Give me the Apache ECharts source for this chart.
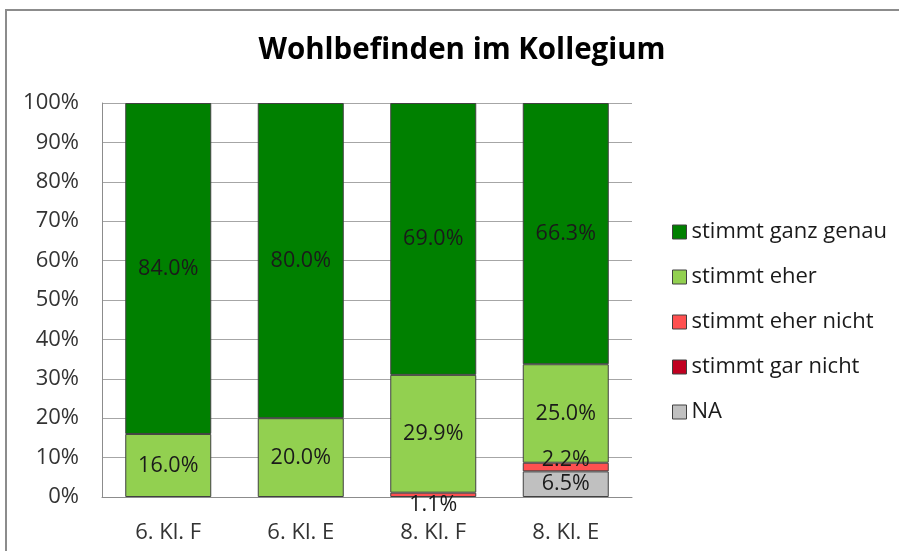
<!DOCTYPE html>
<html><head><meta charset="utf-8">
<script src="https://cdn.jsdelivr.net/npm/echarts@6/dist/echarts.min.js"></script>
<style>html,body{margin:0;padding:0;background:#fff}#c{width:899px;height:551px}</style>
</head><body><div id="c"></div>
<script>
const categories = ['6. Kl. F', '6. Kl. E', '8. Kl. F', '8. Kl. E'];
const seriesNames = ['stimmt ganz genau', 'stimmt eher', 'stimmt eher nicht', 'stimmt gar nicht', 'NA'];
const ganzGenau = [84.0, 80.0, 69.0, 66.3];
const eher = [16.0, 20.0, 29.9, 25.0];
const eherNicht = [null, null, 1.1, 2.2];
const garNicht = [null, null, null, null];
const na = [null, null, null, 6.5];
const yTicks = [0, 10, 20, 30, 40, 50, 60, 70, 80, 90, 100];

const colors = {
  'stimmt ganz genau': '#008000',
  'stimmt eher': '#92D050',
  'stimmt eher nicht': '#FF5050',
  'stimmt gar nicht': '#C00020',
  'NA': '#C0C0C0'
};
// label nudges (the original moved these to avoid overlap)
const labelOffsets = { 'stimmt eher nicht': [[0,0],[0,0],[0,10],[0,-7]] };

const stackOrder = [
  ['NA', na], ['stimmt gar nicht', garNicht], ['stimmt eher nicht', eherNicht],
  ['stimmt eher', eher], ['stimmt ganz genau', ganzGenau]
];
const FONT = 'Open Sans';
const series = stackOrder.map(([name, arr]) => ({
  name, type: 'bar', stack: 'total', barWidth: 86,
  itemStyle: { color: colors[name], borderColor: '#404040', borderWidth: 1 },
  label: {
    show: true, position: 'inside', color: '#1a1a1a', fontFamily: FONT, fontSize: 21.5,
    formatter: p => (p.value == null ? '' : p.value.toFixed(1) + '%')
  },
  data: arr.map((v, i) => {
    const off = labelOffsets[name] ? labelOffsets[name][i] : null;
    return off ? { value: v, label: { offset: off } } : v;
  })
}));

const chart = echarts.init(document.getElementById('c'), null, { renderer: 'canvas' });
chart.setOption({
  animation: false,
  backgroundColor: '#fff',
  graphic: [{ type: 'rect', shape: { x: 6, y: 10, width: 1000, height: 1000 },
    style: { fill: 'none', stroke: '#8c8c8c', lineWidth: 2 }, silent: true, z: -1 }],
  title: { text: 'Wohlbefinden im Kollegium', left: 457, top: 31, textAlign: 'center',
    textStyle: { fontFamily: FONT, fontWeight: 'bold', fontSize: 29.5, color: '#000' } },
  legend: {
    orient: 'vertical', left: 667, top: 216, itemGap: 23, itemWidth: 14, itemHeight: 14,
    icon: 'rect', data: seriesNames,
    itemStyle: { borderColor: '#404040', borderWidth: 1 },
    textStyle: { fontFamily: FONT, fontSize: 22, color: '#1a1a1a' }
  },
  grid: { left: 102, right: 267, top: 103, bottom: 54, containLabel: false },
  xAxis: {
    type: 'category', data: categories,
    axisLine: { lineStyle: { color: '#8c8c8c', width: 1 } },
    axisTick: { show: false },
    axisLabel: { fontFamily: FONT, fontSize: 22, color: '#333', margin: 25 }
  },
  yAxis: {
    type: 'value', min: 0, max: 100, interval: 10,
    axisLine: { show: true, lineStyle: { color: '#8c8c8c' } },
    axisTick: { show: false },
    splitLine: { lineStyle: { color: '#a6a6a6' } },
    axisLabel: { fontFamily: FONT, fontSize: 22, color: '#333', margin: 23,
      formatter: v => yTicks.includes(v) ? v + '%' : '' }
  },
  series
});
</script></body></html>
